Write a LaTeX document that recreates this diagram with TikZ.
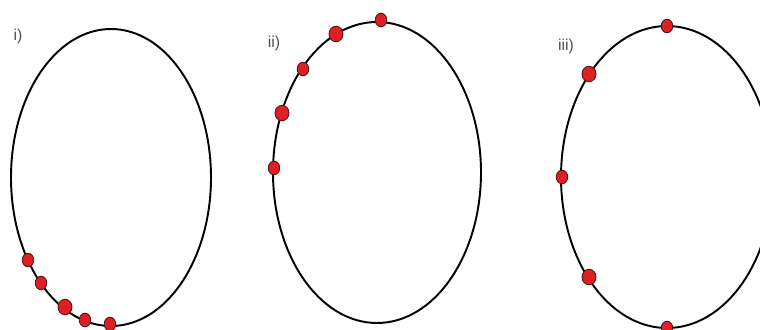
\documentclass[tikz,border=0pt]{standalone}
\usepackage{fontspec}
\setmainfont{Liberation Sans}
\usetikzlibrary{shapes.geometric}
\definecolor{dotred}{RGB}{222,32,38}
\definecolor{dotrim}{RGB}{90,20,20}
\definecolor{labelgray}{RGB}{80,80,80}

\begin{document}
\begin{tikzpicture}[
    x=0.02cm, y=0.02cm,
    orbit/.style={draw=black, line width=1.1pt},
    dot/.style={ellipse, draw=dotrim, fill=dotred, line width=0.5pt, inner sep=0pt, minimum width=0.23cm, minimum height=0.27cm},
    bigdot/.style={dot, minimum width=0.28cm, minimum height=0.31cm},
    lbl/.style={text=labelgray, font=\fontsize{9}{10}\selectfont, inner sep=0pt}
]
\useasboundingbox (0,0) rectangle (760,-329);
\clip (0,0) rectangle (760,-329);

% i) points bunched at the bottom
\node[lbl] (labi) at (18,-36) {i)};
\draw[orbit] (111,-177.5) ellipse [x radius=100, y radius=148.5];
\node[dot] (i1) at (28,-260) {};
\node[dot] (i2) at (41,-283) {};
\node[bigdot] (i3) at (65,-307) {};
\node[dot] (i4) at (85,-320) {};
\node[dot] (i5) at (110,-324) {};

% ii) points bunched at the top left
\node[lbl] (labii) at (274,-43) {ii)};
\draw[orbit] (377,-172.5) ellipse [x radius=104, y radius=150.5];
\node[dot] (ii1) at (381,-20) {};
\node[bigdot] (ii2) at (336,-34) {};
\node[dot] (ii3) at (303,-69) {};
\node[bigdot] (ii4) at (282,-113) {};
\node[dot] (ii5) at (274,-168) {};

% iii) points spread over the left half
\node[lbl] (labiii) at (566,-46) {iii)};
\draw[orbit] (667,-177) ellipse [x radius=106, y radius=151];
\node[dot] (iii1) at (667,-26) {};
\node[bigdot] (iii2) at (589,-74) {};
\node[dot] (iii3) at (562,-177) {};
\node[bigdot] (iii4) at (589,-277) {};
\node[dot] (iii5) at (667,-328) {};
\end{tikzpicture}
\end{document}
